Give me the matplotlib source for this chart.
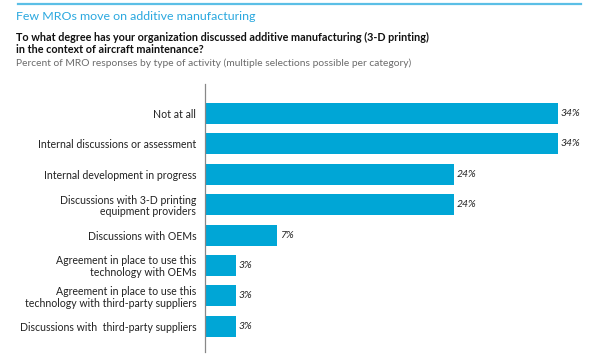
import matplotlib.pyplot as plt

# Survey data
categories = [
    "Not at all",
    "Internal discussions or assessment",
    "Internal development in progress",
    "Discussions with 3-D printing\nequipment providers",
    "Discussions with OEMs",
    "Agreement in place to use this\ntechnology with OEMs",
    "Agreement in place to use this\ntechnology with third-party suppliers",
    "Discussions with  third-party suppliers",
]
values = [34, 34, 24, 24, 7, 3, 3, 3]
value_labels = ["34%", "34%", "24%", "24%", "7%", "3%", "3%", "3%"]

title = "Few MROs move on additive manufacturing"
question = ("To what degree has your organization discussed additive manufacturing (3-D printing)\n"
            "in the context of aircraft maintenance?")
subtitle = "Percent of MRO responses by type of activity (multiple selections possible per category)"

bar_color = "#00a6d6"
accent = "#2aa8df"

plt.rcParams["font.family"] = ["Lato", "DejaVu Sans"]

W, H = 600, 357
fig = plt.figure(figsize=(W / 100, H / 100), dpi=100)

# top rule
fig.add_artist(plt.Line2D([18 / W, 581 / W], [1 - 4 / H, 1 - 4 / H], color="#5bbfe6", lw=1.6))

fig.text(16 / W, 1 - 16 / H, title, color=accent, fontsize=8.9, va="center", ha="left")
fig.text(16 / W, 1 - 43.5 / H, question, color="#111111", fontsize=7.75, fontweight="bold",
         va="center", ha="left", linespacing=1.2)
fig.text(16 / W, 1 - 63 / H, subtitle, color="#6b6b6b", fontsize=7.35, va="center", ha="left")

ax = fig.add_axes([204.5 / W, 1 - 352 / H, (599 - 204.5) / W, (352 - 84) / H])
ypos = list(range(len(categories)))
ax.barh(ypos, values, height=0.69, color=bar_color, left=0)
ax.set_xlim(0, (599 - 205) / 10.37)
ax.set_ylim(7.845, -0.963)

for y, v, lab in zip(ypos, values, value_labels):
    ax.text(v + 0.3, y, lab, va="center", ha="left", fontsize=7.5, style="italic", color="#222222")

ax.set_yticks(ypos)
ax.set_yticklabels(categories, fontsize=7.6, color="#222222", linespacing=1.1)
for t in ax.get_yticklabels():
    t.set_horizontalalignment("right")
ax.tick_params(axis="y", length=0, pad=6)
ax.set_xticks([])
for s in ["top", "right", "bottom"]:
    ax.spines[s].set_visible(False)
ax.spines["left"].set_color("#888888")
ax.spines["left"].set_linewidth(0.9)

fig.savefig("out.png", dpi=100)
